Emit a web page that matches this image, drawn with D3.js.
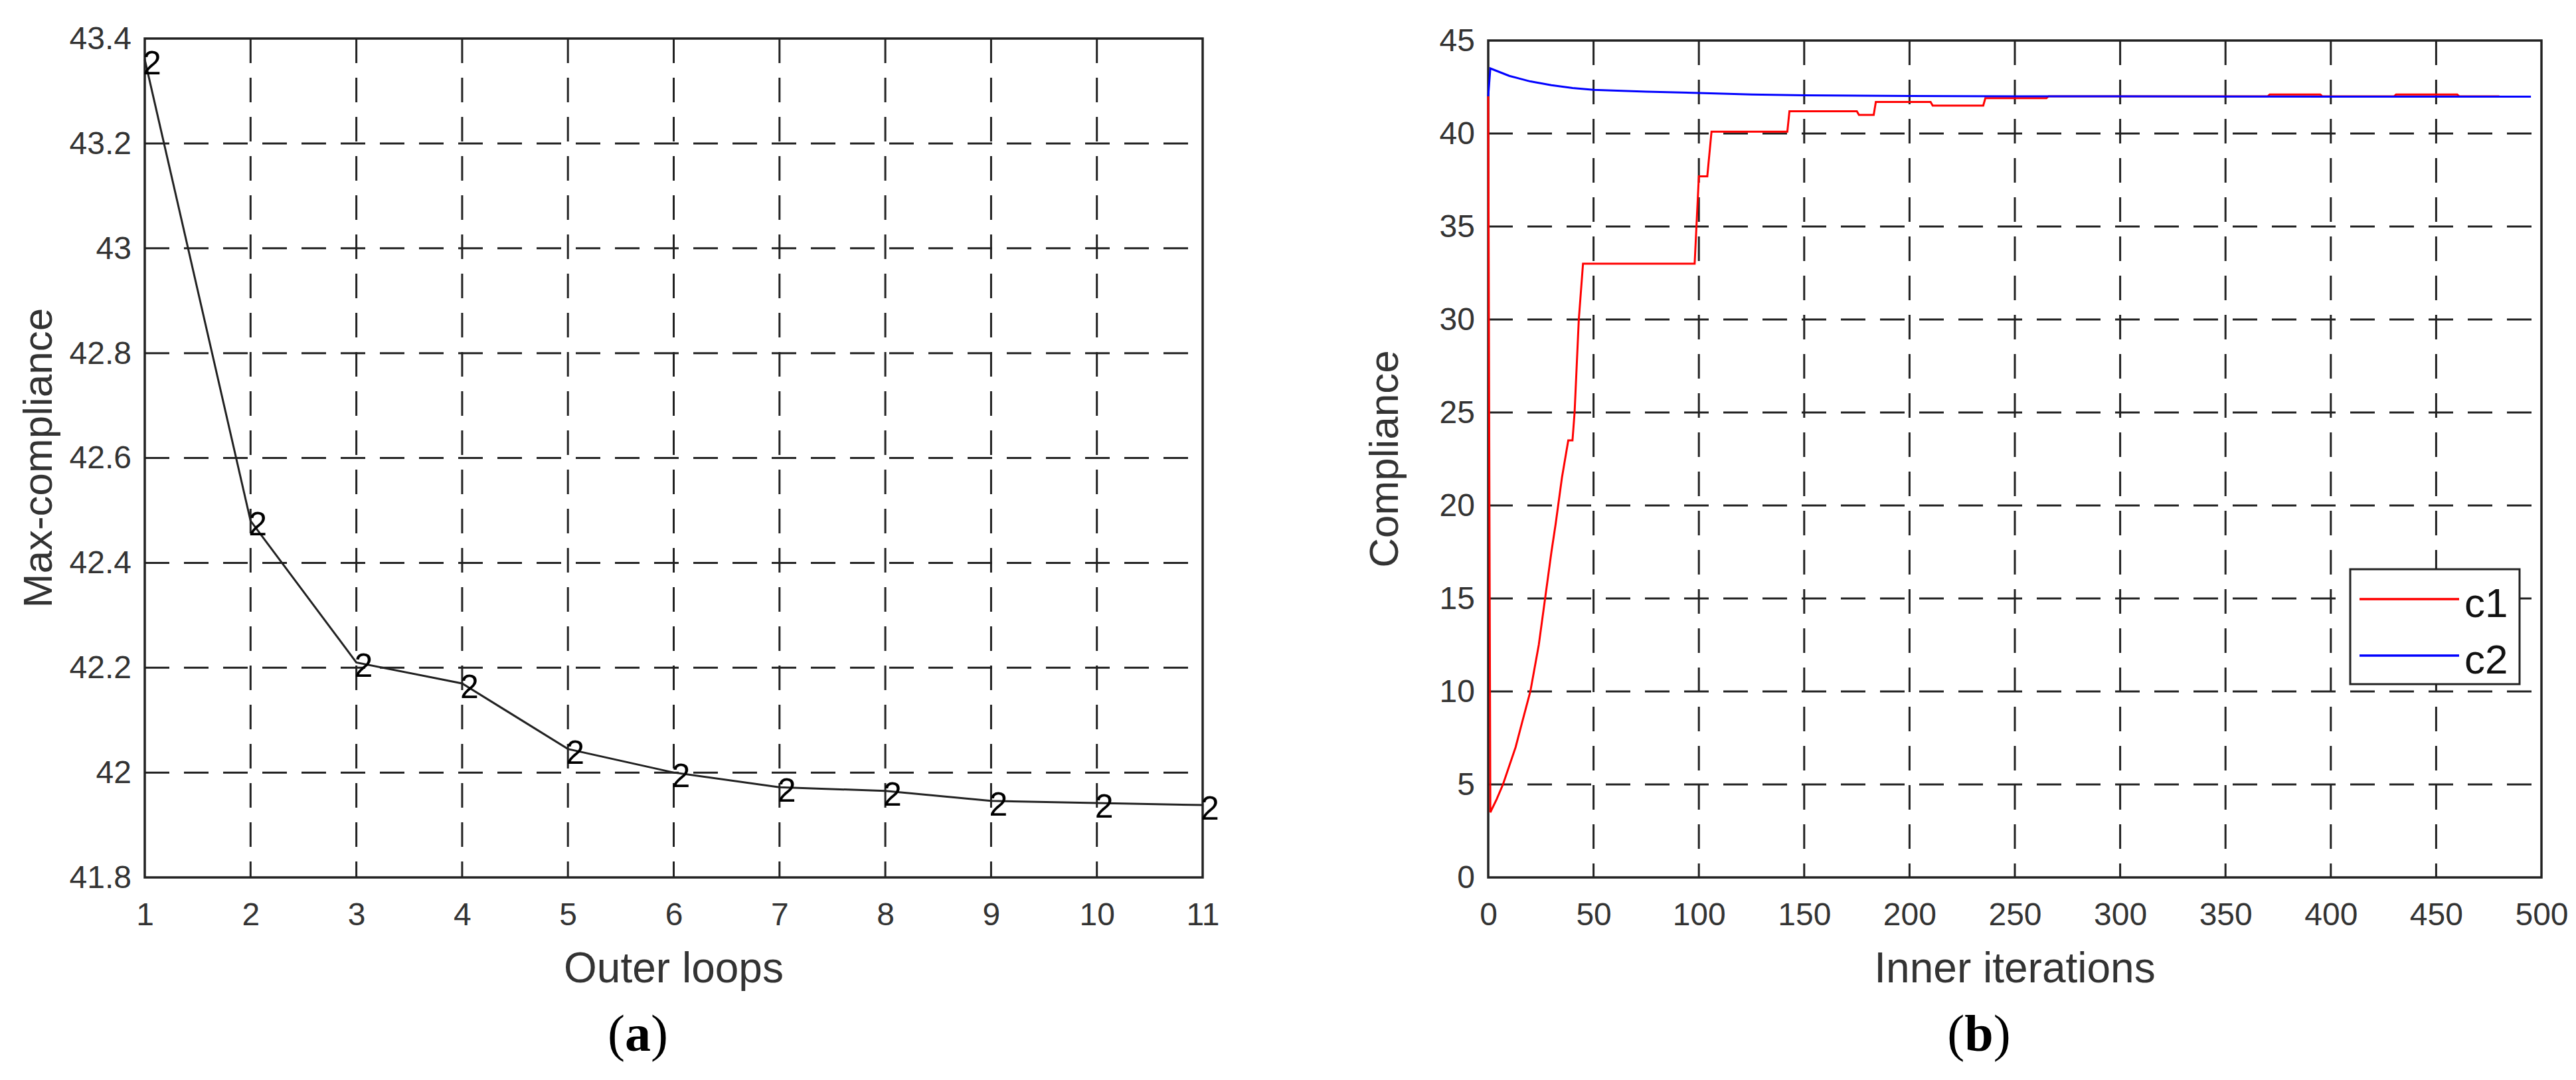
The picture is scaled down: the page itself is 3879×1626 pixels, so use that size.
<!DOCTYPE html>
<html><head><meta charset="utf-8">
<script src="https://cdn.jsdelivr.net/npm/d3@7"></script>
<style>body{margin:0;background:#fff}text{font-family:"Liberation Sans",Arial,sans-serif}text.cap{font-family:"Liberation Serif","Times New Roman",serif}</style>
</head><body>
<svg id="c" width="3879" height="1626"></svg>
<script>
// panel (a)
var loops = [1,2,3,4,5,6,7,8,9,10,11];
var maxComp = [43.36,42.48,42.21,42.17,42.045,42.0,41.972,41.965,41.946,41.942,41.938];
var aTicksY = [41.8,42,42.2,42.4,42.6,42.8,43,43.2,43.4];
// panel (b)
var c1Iter = [0,1,4,7,10,13,16,20,24,27,30,32,35,38,40,41,43,45,47,98,100,104,106,142,143,175,176,183,184,210,211,235,236,265,266,370,371,395,396,430,431,460,461,480];
var c1Val  = [42,3.5,4.2,5,6,7,8.3,10,12.5,15,17.5,19,21.5,23.5,23.5,25,30,33,33,33,37.7,37.7,40.1,40.1,41.2,41.2,41,41,41.7,41.7,41.5,41.5,41.9,41.9,42,42,42.1,42.1,42,42,42.1,42.1,42,42];
var c2Iter = [0,1,10,20,30,40,50,75,100,125,150,200,250,300,400,495];
var c2Val  = [42,43.5,43.1,42.8,42.6,42.45,42.35,42.25,42.18,42.1,42.05,42.02,42.0,42.0,41.98,41.98];
var series = ["c1","c2"], colors = ["#ff0000","#0000ff"];

var svg = d3.select("#c");

function panel(o){
  var g = svg.append("g");
  var x = d3.scaleLinear().domain(o.xd).range([o.x0,o.x1]);
  var y = d3.scaleLinear().domain(o.yd).range([o.y1,o.y0]);
  g.selectAll(".gx").data(o.xt.slice(1,-1)).enter().append("line")
    .attr("x1",d=>x(d)).attr("x2",d=>x(d)).attr("y1",o.y0).attr("y2",o.y1)
    .attr("stroke","#222").attr("stroke-width",3).attr("stroke-dasharray","37,22");
  g.selectAll(".gy").data(o.yt.slice(1,-1)).enter().append("line")
    .attr("y1",d=>y(d)).attr("y2",d=>y(d)).attr("x1",o.x0).attr("x2",o.x1)
    .attr("stroke","#222").attr("stroke-width",3).attr("stroke-dasharray","37,22");
  g.append("rect").attr("x",o.x0).attr("y",o.y0).attr("width",o.x1-o.x0).attr("height",o.y1-o.y0)
    .attr("fill","none").attr("stroke","#222").attr("stroke-width",3.5);
  g.append("g").attr("transform","translate(0,"+o.y1+")")
    .call(d3.axisBottom(x).tickValues(o.xt).tickSize(0).tickPadding(38))
    .call(a=>a.select(".domain").remove())
    .selectAll("text").attr("font-size",48).attr("fill","#333");
  g.append("g").attr("transform","translate("+o.x0+",0)")
    .call(d3.axisLeft(y).tickValues(o.yt).tickSize(0).tickPadding(20).tickFormat(d=>String(+d.toFixed(1))))
    .call(a=>a.select(".domain").remove())
    .selectAll("text").attr("font-size",48).attr("fill","#333");
  g.append("text").attr("x",(o.x0+o.x1)/2).attr("y",1479).attr("text-anchor","middle")
    .attr("font-size",64).attr("fill","#333").text(o.xl);
  g.append("text").attr("transform","translate("+o.ylx+","+((o.y0+o.y1)/2)+") rotate(-90)")
    .attr("text-anchor","middle").attr("font-size",62).attr("fill","#333").text(o.yl);
  g.append("text").attr("class","cap").attr("x",(o.x0+o.x1)/2-54).attr("y",1582).attr("text-anchor","middle")
    .attr("font-size",78).attr("fill","#000")
    .html(o.cap);
  return {x:x,y:y,g:g};
}

var A = panel({x0:218,x1:1811,y0:58,y1:1321,xd:[1,11],yd:[41.8,43.4],xt:loops,yt:aTicksY,
  xl:"Outer loops",yl:"Max-compliance",ylx:78,cap:"(<tspan font-weight='bold'>a</tspan>)"});
A.g.append("path").datum(maxComp)
  .attr("d",d3.line().x((d,i)=>A.x(loops[i])).y(d=>A.y(d)))
  .attr("fill","none").attr("stroke","#222").attr("stroke-width",3);
A.g.selectAll(".lb").data(maxComp).enter().append("text")
  .attr("x",(d,i)=>A.x(loops[i])-3).attr("y",d=>A.y(d)+22).attr("font-size",50).attr("fill","#000").text("2");

var B = panel({x0:2241,x1:3827,y0:61,y1:1321,xd:[0,500],yd:[0,45],xt:d3.range(0,501,50),yt:d3.range(0,46,5),
  xl:"Inner iterations",yl:"Compliance",ylx:2105,cap:"(<tspan font-weight='bold'>b</tspan>)"});
function lineB(xs){ return d3.line().x((d,i)=>B.x(xs[i])).y(d=>B.y(d)); }
B.g.append("path").datum(c1Val).attr("d",lineB(c1Iter)).attr("fill","none").attr("stroke",colors[0]).attr("stroke-width",3);
B.g.append("path").datum(c2Val).attr("d",lineB(c2Iter)).attr("fill","none").attr("stroke",colors[1]).attr("stroke-width",3);

// legend
var lg = B.g.append("g").attr("transform","translate(3539,857)");
lg.append("rect").attr("width",255).attr("height",173).attr("fill","#fff").attr("stroke","#222").attr("stroke-width",3);
series.forEach(function(s,i){
  lg.append("line").attr("x1",14).attr("x2",164).attr("y1",45+i*85).attr("y2",45+i*85).attr("stroke",colors[i]).attr("stroke-width",3.5);
  lg.append("text").attr("x",172).attr("y",72+i*85).attr("font-size",62).attr("fill","#111").text(s);
});
</script>
</body></html>
